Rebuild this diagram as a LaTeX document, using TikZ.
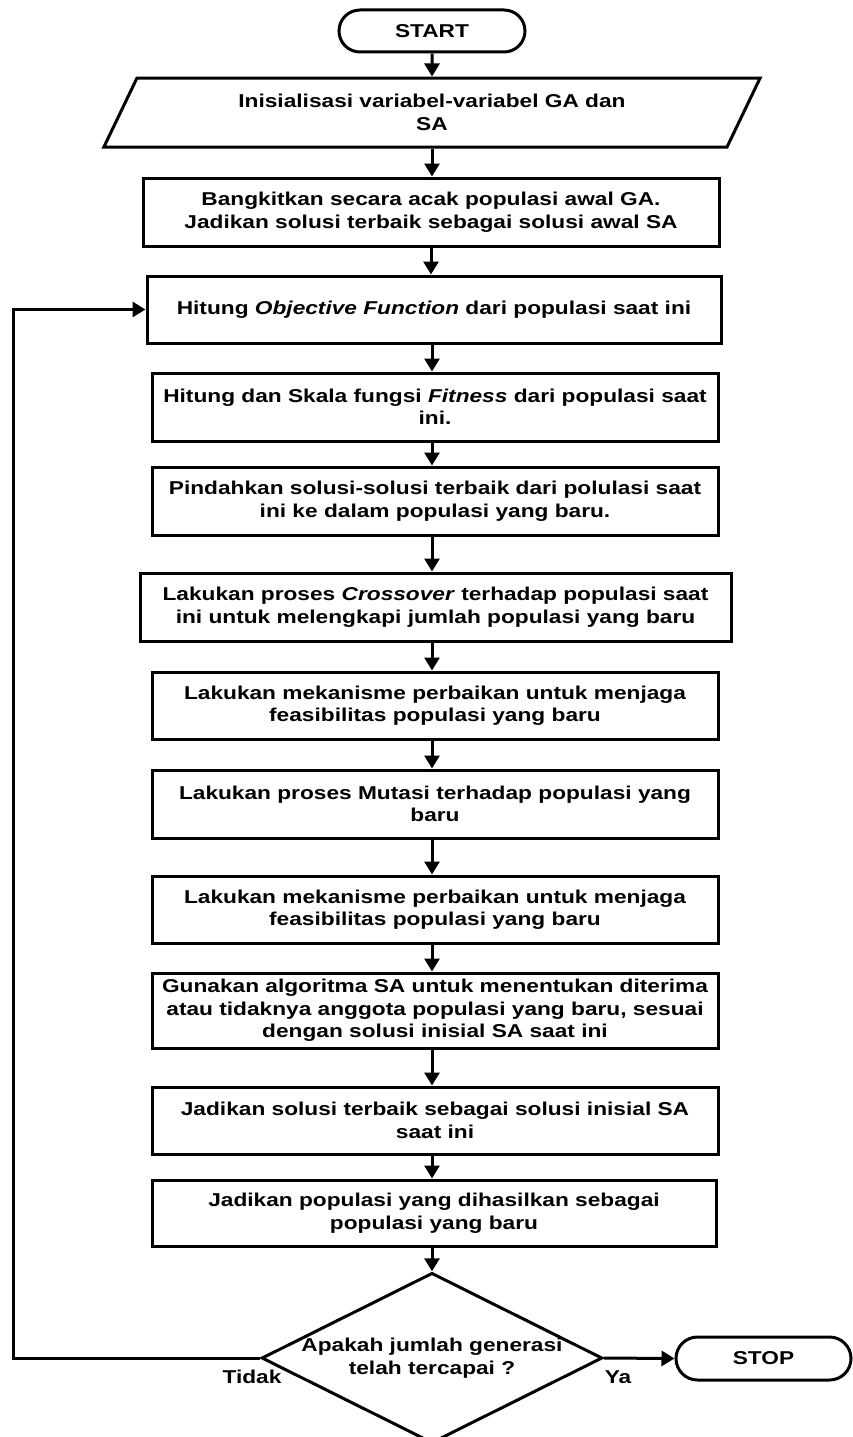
\documentclass[tikz,border=0pt]{standalone}
\usepackage{fontspec}
\newfontfamily\flowfont{Liberation Sans}[FakeStretch=1.22]
\usetikzlibrary{shapes.geometric,shapes.misc,arrows.meta}

\begin{document}
\begin{tikzpicture}[x=1pt,y=-1pt,line width=3pt,
		>={Triangle[length=13pt,width=15pt]},
		every node/.style={font=\flowfont\bfseries\fontsize{18.6}{22.5}\selectfont,align=center},
		kotak/.style={rectangle,draw,fill=white,inner sep=0pt,minimum width=566pt,minimum height=68pt},
		terminal/.style={rounded rectangle,draw,fill=white,inner sep=0pt,minimum width=186pt,minimum height=42pt},
		masukan/.style={trapezium,draw,fill=white,trapezium left angle=59,trapezium right angle=121,
			trapezium stretches=true,inner sep=0pt,minimum width=657pt,minimum height=69pt},
		keputusan/.style={diamond,draw,fill=white,aspect=2,inner sep=0pt,minimum width=340pt,minimum height=166pt}]

	\useasboundingbox (0,0) rectangle (853,1437);

	\node[terminal]
		(start) 	at (432,31) {START};
	\node[masukan]
		(init) 		at (432,112.5) {Inisialisasi variabel-variabel GA dan\\ SA};
	\node[kotak,minimum width=576pt]
		(acak) 		at (431,212) {Bangkitkan secara acak populasi awal GA.\\ Jadikan solusi terbaik sebagai solusi awal SA};
	\node[kotak,minimum width=574pt,minimum height=67pt]
		(objektif) 	at (434,309.5) {Hitung \textit{Objective Function} dari populasi saat ini};
	\node[kotak]
		(fitness) 	at (435,407) {Hitung dan Skala fungsi \textit{Fitness} dari populasi saat\\ ini.};
	\node[kotak]
		(elit) 		at (435,501) {Pindahkan solusi-solusi terbaik dari polulasi saat\\ ini ke dalam populasi yang baru.};
	\node[kotak,minimum width=591pt]
		(crossover) at (435.5,607) {Lakukan proses \textit{Crossover} terhadap populasi saat\\ ini untuk melengkapi jumlah populasi yang baru};
	\node[kotak,minimum height=67pt]
		(perbaikan1) at (435,705.5) {Lakukan mekanisme perbaikan untuk menjaga\\ feasibilitas populasi yang baru};
	\node[kotak]
		(mutasi) 	at (435,804) {Lakukan proses Mutasi terhadap populasi yang\\ baru};
	\node[kotak,minimum height=67pt]
		(perbaikan2) at (435,909.5) {Lakukan mekanisme perbaikan untuk menjaga\\ feasibilitas populasi yang baru};
	\node[kotak,minimum height=75pt]
		(seleksi) 	at (435,1010.5) {Gunakan algoritma SA untuk menentukan diterima\\ atau tidaknya anggota populasi yang baru, sesuai\\ dengan solusi inisial SA saat ini};
	\node[kotak,minimum height=67pt]
		(terbaik) 	at (435,1120.5) {Jadikan solusi terbaik sebagai solusi inisial SA\\ saat ini};
	\node[kotak,minimum width=564pt,minimum height=66pt]
		(baru) 		at (434,1213) {Jadikan populasi yang dihasilkan sebagai\\ populasi yang baru};
	\node[keputusan]
		(cek) 		at (432,1358) {Apakah jumlah generasi\\ telah tercapai ?};
	\node[terminal,minimum width=175pt,minimum height=43pt]
		(stop) 		at (763.5,1358.5) {STOP};
	\node
		(tidak) 	at (252,1377) {Tidak};
	\node
		(ya) 		at (618,1377) {Ya};
	\coordinate (balik) at (13,1358);

	\begin{scope}[line width=3pt]
		\draw[->] (start) -- (init);
		\draw[->] (init) -- (init |- acak.north);
		\draw[->] (acak) -- (acak |- objektif.north);
		\draw[->] (objektif.south -| cek) -- (fitness.north -| cek);
		\draw[->] (fitness.south -| cek) -- (elit.north -| cek);
		\draw[->] (elit.south -| cek) -- (crossover.north -| cek);
		\draw[->] (crossover.south -| cek) -- (perbaikan1.north -| cek);
		\draw[->] (perbaikan1.south -| cek) -- (mutasi.north -| cek);
		\draw[->] (mutasi.south -| cek) -- (perbaikan2.north -| cek);
		\draw[->] (perbaikan2.south -| cek) -- (seleksi.north -| cek);
		\draw[->] (seleksi.south -| cek) -- (terbaik.north -| cek);
		\draw[->] (terbaik.south -| cek) -- (baru.north -| cek);
		\draw[->] (baru.south -| cek) -- (cek.north);
		\draw[->] (cek.east) -- (stop.west);
		\draw[->] (cek.west) -- (balik) |- (objektif.west);
	\end{scope}
\end{tikzpicture}
\end{document}
